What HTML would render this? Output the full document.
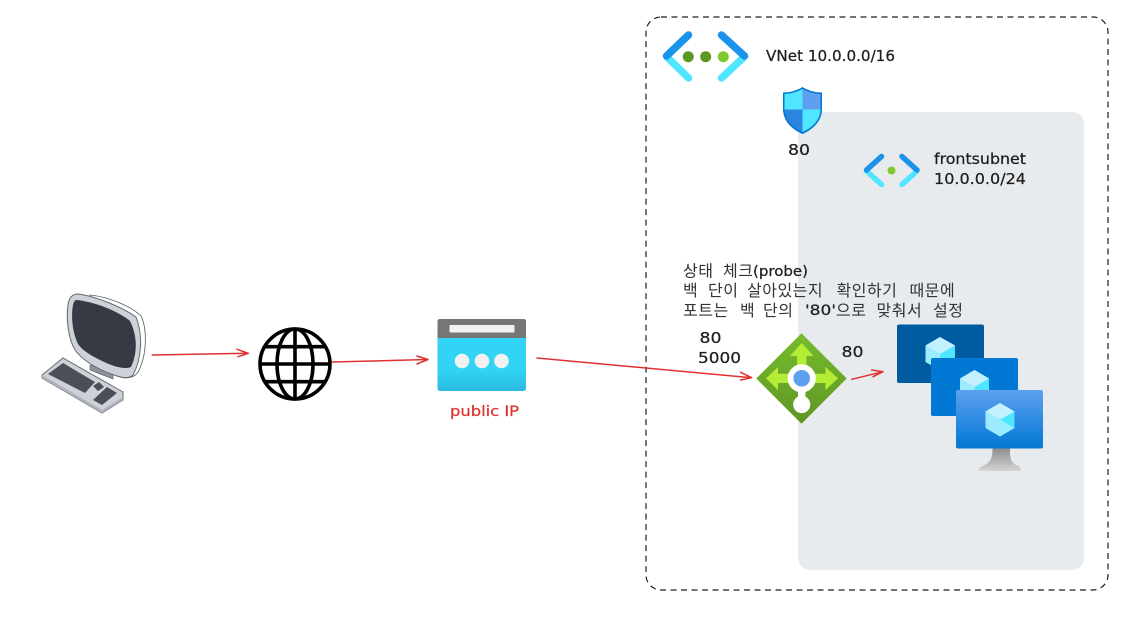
<!DOCTYPE html>
<html>
<head>
<meta charset="utf-8">
<style>
html,body{margin:0;padding:0;background:#fff;width:1124px;height:619px;overflow:hidden}
svg{display:block}
text{font-family:"DejaVu Sans","Liberation Sans","Noto Sans CJK KR",sans-serif;fill:#1e1e1e;stroke:#1e1e1e;stroke-width:.25}
.k{font-family:"Liberation Sans","Noto Sans CJK KR",sans-serif;font-size:16px;letter-spacing:.5px;fill:#333;stroke:none}
</style>
</head>
<body>
<svg width="1124" height="619" viewBox="0 0 1124 619" xmlns="http://www.w3.org/2000/svg">
<defs>
<linearGradient id="vm3" x1="0" y1="0" x2="0" y2="1"><stop offset="0" stop-color="#5ea0ef"/><stop offset="1" stop-color="#0078d4"/></linearGradient>
<linearGradient id="stand" x1="0" y1="0" x2="0" y2="1"><stop offset="0" stop-color="#8c8c8c"/><stop offset="1" stop-color="#d4d4d4"/></linearGradient>
<linearGradient id="lb" x1="0" y1="0" x2="0" y2="1"><stop offset="0" stop-color="#76bc2d"/><stop offset="1" stop-color="#5e9624"/></linearGradient>
<linearGradient id="ip" x1="0" y1="0" x2="0" y2="1"><stop offset="0" stop-color="#32d4f5"/><stop offset="0.7" stop-color="#32d4f5"/><stop offset="1" stop-color="#29bade"/></linearGradient>
</defs>

<!-- containers -->
<rect x="798" y="112" width="286" height="458" rx="12" fill="#e8ebee"/>
<rect x="646" y="17" width="462" height="573" rx="15" fill="none" stroke="#1e1e1e" stroke-width="1.200" stroke-dasharray="6 4.500"/>

<!-- VNet icon -->
<g fill="none" stroke-width="7.500" stroke-linejoin="round" stroke-linecap="round">
<path d="M668 58 L688.500 78" stroke="#50e6ff"/>
<path d="M721.500 78 L743 58" stroke="#50e6ff"/>
<path d="M688.500 35 L666.500 56" stroke="#1b93eb"/>
<path d="M721.500 35 L744.500 56" stroke="#1b93eb"/>
</g>
<circle cx="688.300" cy="56.700" r="5.500" fill="#5e9624"/>
<circle cx="705.700" cy="56.700" r="5.500" fill="#5e9624"/>
<circle cx="723.300" cy="56.700" r="5.500" fill="#7fc92f"/>
<text x="766" y="61" font-size="15" textLength="129" lengthAdjust="spacingAndGlyphs">VNet 10.0.0.0/16</text>

<!-- shield -->
<path d="M783 92.500 C791 92.500 798 90 802.500 87 C807 90 814 92.500 822 92.500 L822 110 C821.500 122 812 130 802.500 134 C793 130 783.500 122 783 110 Z" fill="#0078d4"/>
<path d="M802.500 89 C798 91.500 791 93.800 784.500 94 L784.500 109.500 L802.500 109.500 Z" fill="#50e6ff"/>
<path d="M802.500 89 C807 91.500 814 93.800 820.500 94 L820.500 109.500 L802.500 109.500 Z" fill="#5ea0ef"/>
<path d="M784.500 109.500 L802.500 109.500 L802.500 132 C793.500 128 785 121 784.500 109.500 Z" fill="#2a84e0"/>
<path d="M802.500 109.500 L820.500 109.500 C820 121 811.500 128 802.500 132 Z" fill="#50e6ff"/>
<text x="788" y="155" font-size="15" textLength="22" lengthAdjust="spacingAndGlyphs">80</text>

<!-- subnet icon -->
<g fill="none" stroke-width="5.500" stroke-linecap="round">
<path d="M867 171.500 L881.500 184.500" stroke="#50e6ff"/>
<path d="M902 184.500 L916.500 171.500" stroke="#50e6ff"/>
<path d="M881.500 156.500 L866.500 170" stroke="#1b93eb"/>
<path d="M902 156.500 L917 170" stroke="#1b93eb"/>
</g>
<circle cx="891.500" cy="170.500" r="4" fill="#7fc92f"/>
<text x="934" y="164" font-size="15" textLength="92" lengthAdjust="spacingAndGlyphs">frontsubnet</text>
<text x="934" y="184" font-size="15" textLength="92" lengthAdjust="spacingAndGlyphs">10.0.0.0/24</text>

<!-- Korean note -->
<text class="k" y="276.500"><tspan x="683">상태</tspan><tspan x="723">체크</tspan></text>
<text x="753" y="276" font-size="14" textLength="55" lengthAdjust="spacingAndGlyphs">(probe)</text>
<text class="k" y="296"><tspan x="683">백</tspan><tspan x="708">단이</tspan><tspan x="747">살아있는지</tspan><tspan x="836.500">확인하기</tspan><tspan x="909.500">때문에</tspan></text>
<text class="k" y="316"><tspan x="683">포트는</tspan><tspan x="740">백</tspan><tspan x="763">단의</tspan><tspan x="836">으로</tspan><tspan x="876.500">맞춰서</tspan><tspan x="933">설정</tspan></text>
<text x="805" y="315" font-size="14" textLength="31" lengthAdjust="spacingAndGlyphs">'80'</text>

<text x="699.500" y="343" font-size="15" textLength="22" lengthAdjust="spacingAndGlyphs">80</text>
<text x="698" y="363" font-size="15" textLength="43" lengthAdjust="spacingAndGlyphs">5000</text>
<text x="841.500" y="357" font-size="15" textLength="22" lengthAdjust="spacingAndGlyphs">80</text>

<!-- load balancer -->
<path d="M801.500 334 L846 378.500 L801.500 423 L757 378.500 Z" fill="url(#lb)" stroke="url(#lb)" stroke-width="1" stroke-linejoin="round"/>
<g fill="#b4ec36">
<path d="M801.700 343 L813.500 356 L806.500 356 L806.500 372 L797 372 L797 356 L790 356 Z"/>
<path d="M766 378.300 L778 367 L778 373.800 L825.500 373.800 L825.500 367 L838 378.300 L825.500 390 L825.500 383 L778 383 L778 390 Z"/>
</g>
<circle cx="801.700" cy="378.300" r="11.200" fill="#5ea0ef" stroke="#fff" stroke-width="5.800"/>
<rect x="798" y="390" width="7.400" height="12" fill="#fff"/>
<circle cx="801.700" cy="404.500" r="8.600" fill="#fff"/>

<!-- VMs -->
<rect x="897" y="324.500" width="87" height="58.500" rx="2" fill="#005ba1"/>
<path d="M940 337 L955 345.500 L955 362 L940 370 L925.500 362 L925.500 345.500 Z" fill="#50e6ff"/>
<path d="M940 337 L955 345.500 L940 354 L925.500 345.500 Z" fill="#c3f1ff"/>
<path d="M925.500 345.500 L940 354 L940 370 L925.500 362 Z" fill="#9cebff"/>
<rect x="931" y="358" width="87" height="58" rx="2" fill="#0078d4"/>
<path d="M974.500 370 L989 378.500 L989 395 L974.500 403 L960 395 L960 378.500 Z" fill="#50e6ff"/>
<path d="M974.500 370 L989 378.500 L974.500 387 L960 378.500 Z" fill="#c3f1ff"/>
<path d="M960 378.500 L974.500 387 L974.500 403 L960 395 Z" fill="#9cebff"/>
<path d="M992.500 448 L1010 448 C1010 458 1010 463 1020 467 Q1022 471 1019 471 L981 471 Q977.500 471 980 467 C991 463 992.500 458 992.500 448 Z" fill="url(#stand)"/>
<rect x="956" y="390" width="87" height="58.500" rx="2" fill="url(#vm3)"/>
<path d="M1000 403 L1014.500 411.500 L1014.500 428 L1000 436.500 L985.500 428 L985.500 411.500 Z" fill="#50e6ff"/>
<path d="M1000 403 L1014.500 411.500 L1000 419.500 L985.500 411.500 Z" fill="#c3f1ff"/>
<path d="M985.500 411.500 L1000 419.500 L1000 436.500 L985.500 428 Z" fill="#9cebff"/>
<path d="M1000 419.500 L1014.500 428 L1000 436.500 Z" fill="#c3f1ff" opacity="0.6"/>

<!-- public IP -->
<rect x="437.500" y="319" width="88.500" height="72" rx="2.500" fill="url(#ip)"/>
<path d="M437.500 338 L437.500 321.500 Q437.500 319 440 319 L523.500 319 Q526 319 526 321.500 L526 338 Z" fill="#767676"/>
<rect x="449.500" y="325" width="65" height="7.500" rx="1" fill="#f2f2f2"/>
<circle cx="462" cy="361" r="7.300" fill="#f2f2f2"/>
<circle cx="482" cy="361" r="7.300" fill="#f2f2f2"/>
<circle cx="501.500" cy="361" r="7.300" fill="#f2f2f2"/>
<text x="450" y="416" font-size="14" textLength="69" lengthAdjust="spacingAndGlyphs" style="fill:#e03131;stroke:#e03131">public IP</text>

<!-- globe -->
<g fill="none" stroke="#000" stroke-width="3.600">
<circle cx="295" cy="364" r="35"/>
<ellipse cx="295" cy="364" rx="18" ry="35"/>
<path d="M295 329 V399 M260 364 H330 M264 346.700 H326 M264 381.700 H326"/>
</g>

<!-- computer -->
<path d="M90 295 C110 297 132 307 141 316 C147 328 147 352 140 368 C137 377 130 378 124 378 L90 350 Z" fill="#fff" stroke="#55595f" stroke-width="0.800"/>
<path d="M90 365 L113 373 L113 379 L90 370 Z" fill="#8d929a" stroke="#55595f" stroke-width="0.600"/>
<path d="M78 294 C95 296 122 307 136 317 C143 335 142 358 133 375 C129 379 122 378 114 375 C100 370 84 362 75 350 C68 338 66 318 68 305 C69 297 73 294 78 294 Z" fill="#cdd1d8" stroke="#666a70" stroke-width="1"/>
<path d="M77 300 C95 302 118 311 130 321 C137 335 138 352 131 367 C124 370 112 366 100 360 C90 355 82 350 78 344 C72 332 71 315 73 305 C74 301 75 300 77 300 Z" fill="#363a42"/>
<path d="M42 375 L63 358 L123 392 L123 400 L102 413 L42 378 Z" fill="#cdd1d8" stroke="#666a70" stroke-width="1"/>
<path d="M42 375 L102 410 L123 397 L123 400 L102 413 L42 378 Z" fill="#aeb3bb"/>
<path d="M48 374 L63 363 L95 382 L85 393 Z" fill="#4a4f56"/>
<path d="M93 386 L99 382 L104 387 L98 391 Z" fill="#4a4f56"/>
<path d="M93 400 L107 387 L117 393 L102 405 Z" fill="#4a4f56"/>

<!-- arrows -->
<g fill="none" stroke="#e03131" stroke-width="1.500" stroke-linecap="round" stroke-linejoin="round">
<path d="M152.300 355 L248.300 353.300 M237 349.300 L248.300 353.300 L238 356.700"/>
<path d="M332 362 L428 359.500 M417 356 L428 359.500 L417 364"/>
<path d="M537 358 L751.700 377.700 M740.700 372.300 L751.700 377.700 L740.700 380"/>
<path d="M851.700 379.300 L883 371.700 M871.700 370 L883 371.700 L873 376.700"/>
</g>
</svg>
</body>
</html>
